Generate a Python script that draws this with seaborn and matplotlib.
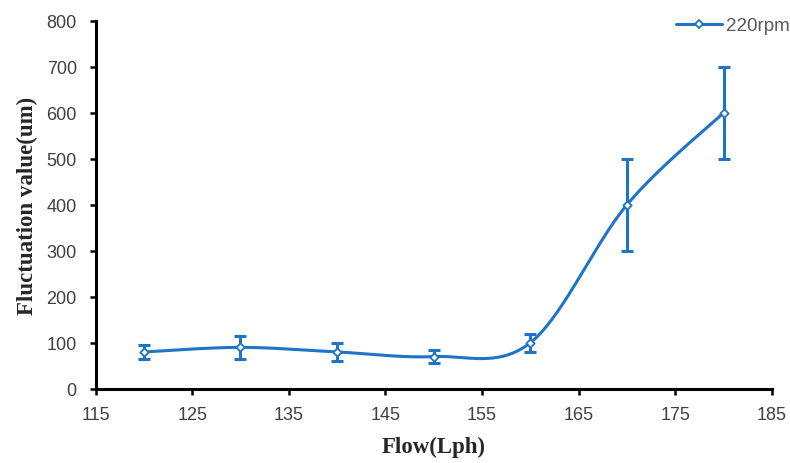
import numpy as np
import pandas as pd
import matplotlib
matplotlib.use("Agg")
import matplotlib.pyplot as plt
import seaborn as sns
from matplotlib.lines import Line2D

flow = [120, 130, 140, 150, 160, 170, 180]
fluct = [80, 90, 80, 70, 100, 400, 600]
err = [15, 25, 20, 15, 20, 100, 100]
series = "220rpm"

df = pd.DataFrame({"Flow": flow, "Fluct": fluct, "Err": err})

# excel-style smoothed line (bezier through points)
def smooth(x, y, n=40):
    x = np.asarray(x, float)
    y = np.asarray(y, float)
    px = np.concatenate([[x[0]], x, [x[-1]]])
    py = np.concatenate([[y[0]], y, [y[-1]]])
    xs, ys = [], []
    t = np.linspace(0, 1, n)
    for i in range(1, len(px) - 2):
        p0 = np.array([px[i], py[i]])
        p3 = np.array([px[i + 1], py[i + 1]])
        p1 = p0 + (np.array([px[i + 1], py[i + 1]]) - np.array([px[i - 1], py[i - 1]])) / 6
        p2 = p3 - (np.array([px[i + 2], py[i + 2]]) - np.array([px[i], py[i]])) / 6
        b = ((1 - t) ** 3)[:, None] * p0 + (3 * (1 - t) ** 2 * t)[:, None] * p1 \
            + (3 * (1 - t) * t ** 2)[:, None] * p2 + (t ** 3)[:, None] * p3
        xs.extend(b[:, 0])
        ys.extend(b[:, 1])
    return np.array(xs), np.array(ys)

sns.set_style("ticks")
plt.rcParams["font.family"] = ["Liberation Sans", "DejaVu Sans"]

blue = "#1f74c8"
fig, ax = plt.subplots(figsize=(7.9, 4.64), dpi=100)
fig.subplots_adjust(left=0.121, right=0.977, bottom=0.160, top=0.953)

sx, sy = smooth(df.Flow, df.Fluct)
sns.lineplot(x=sx, y=sy, ax=ax, color=blue, lw=2.2, sort=False, estimator=None)
ax.errorbar(df.Flow, df.Fluct, yerr=df.Err, fmt="none", ecolor=blue,
            elinewidth=2.2, capsize=4, capthick=2.2, zorder=3)
ax.scatter(df.Flow, df.Fluct, s=18, marker="D", facecolor="white",
           edgecolor=blue, linewidth=1.3, zorder=4)

ax.set_xlim(115, 185)
ax.set_ylim(0, 800)
ax.set_xticks(range(115, 186, 10))
ax.set_yticks(range(0, 801, 100))
ax.tick_params(axis="both", labelsize=13, labelcolor="#404040", width=1.8,
               length=4.5, color="black")
ax.tick_params(axis="x", pad=8)
ax.tick_params(axis="y", pad=9)
for s in ["left", "bottom"]:
    ax.spines[s].set_linewidth(2.2)
    ax.spines[s].set_color("black")
sns.despine(ax=ax)

ax.set_xlabel("Flow(Lph)", fontsize=16.5, fontweight="bold",
              family="Liberation Serif", labelpad=9)
ax.set_ylabel("Fluctuation value(um)", fontsize=16.5, fontweight="bold",
              family="Liberation Serif", labelpad=6)

handle = Line2D([], [], color=blue, lw=2.2, marker="D", markersize=4.5,
                markerfacecolor="white", markeredgecolor=blue, markeredgewidth=1.3)
leg = fig.legend([handle], [series], loc="center left", frameon=False,
                 fontsize=13.5, handlelength=2.45, handletextpad=0.2,
                 borderpad=0, borderaxespad=0,
                 bbox_to_anchor=(0.856, 0.942), bbox_transform=fig.transFigure)
for t in leg.get_texts():
    t.set_color("#595959")

fig.savefig("out.png", dpi=100)
